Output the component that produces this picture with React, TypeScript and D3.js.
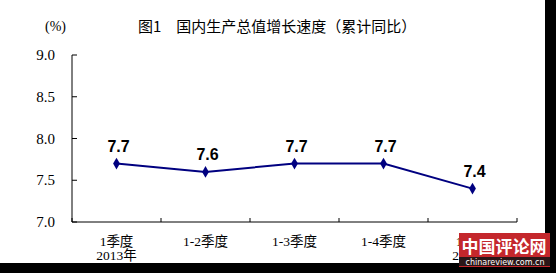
import React from "react";
import * as d3 from "d3";

const categories = ["1季度|2013年", "1-2季度", "1-3季度", "1-4季度", "1季度|2014年"];
const values = [7.7, 7.6, 7.7, 7.7, 7.4];
const yTicks = [7.0, 7.5, 8.0, 8.5, 9.0];
const title = "图1　国内生产总值增长速度（累计同比）";

export default function App() {
  const W = 556, H = 273;
  const x = d3.scaleBand<string>().domain(categories).range([72, 517]);
  const y = d3.scaleLinear().domain([7, 9]).range([222, 55]);
  const cx = (c: string) => (x(c) as number) + x.bandwidth() / 2;
  const line = d3
    .line<number>()
    .x((_, i) => cx(categories[i]))
    .y((v) => y(v));
  const diamond = d3.symbol().type(d3.symbolDiamond).size(40)();
  const serif = "'Liberation Serif', 'Times New Roman', serif";
  const cjk = "'Liberation Serif', 'Noto Sans CJK SC', serif";
  const bounds = [...categories.map((c) => x(c) as number), 517];

  return (
    <svg width={W} height={H} style={{ position: "absolute", left: 0, top: 0 }}>
      <rect x={0} y={0} width={W} height={H} fill="#fff" />
      <text x={45} y={31} fontFamily={serif} fontSize={14} fill="#000">(%)</text>
      <text x={138} y={32} fontFamily="'Noto Sans CJK SC', sans-serif" fontSize={15} fill="#000">
        {title}
      </text>
      {/* y axis */}
      <line x1={72} x2={72} y1={55} y2={222} stroke="#000" strokeWidth={1} />
      {yTicks.map((t) => (
        <g key={t}>
          <line x1={72} x2={77} y1={y(t)} y2={y(t)} stroke="#000" />
          <text x={55} y={y(t) + 5} textAnchor="end" fontFamily={serif} fontSize={15} fill="#000">
            {t.toFixed(1)}
          </text>
        </g>
      ))}
      {/* x axis */}
      <line x1={72} x2={517} y1={222} y2={222} stroke="#000" />
      {bounds.map((b, i) => (
        <line key={i} x1={b} x2={b} y1={222} y2={218} stroke="#000" />
      ))}
      {categories.map((c) => (
        <text key={c} textAnchor="middle" fontFamily={cjk} fontSize={13.5} fill="#000">
          {c.split("|").map((s, j) => (
            <tspan key={j} x={cx(c)} y={246 + j * 13.5}>{s}</tspan>
          ))}
        </text>
      ))}
      {/* series */}
      <path d={line(values) || ""} fill="none" stroke="#000080" strokeWidth={2} />
      {values.map((v, i) => (
        <g key={i}>
          <path d={diamond || ""} transform={`translate(${cx(categories[i])},${y(v)})`} fill="#000080" />
          <text
            x={cx(categories[i]) + 2}
            y={y(v) - 12}
            textAnchor="middle"
            fontFamily="'Liberation Sans', Arial, sans-serif"
            fontWeight="bold"
            fontSize={16}
            fill="#000"
          >
            {v.toFixed(1)}
          </text>
        </g>
      ))}
      {/* frame */}
      <rect x={545} y={0} width={11} height={H} fill="#000" />
      <rect x={0} y={263} width={W} height={10} fill="#000" />
      {/* watermark */}
      <rect x={459} y={233} width={91} height={34} fill="#c4272c" />
      <rect x={459} y={257} width={91} height={9} fill="#2b1718" />
      <text x={504} y={253} textAnchor="middle" fontFamily="'Noto Sans CJK SC', sans-serif" fontWeight="bold" fontSize={17} fill="#fff">
        中国评论网
      </text>
      <text x={505} y={265} textAnchor="middle" fontFamily="'DejaVu Sans', sans-serif" fontSize={8} fill="#fff">
        chinareview.com.cn
      </text>
    </svg>
  );
}
